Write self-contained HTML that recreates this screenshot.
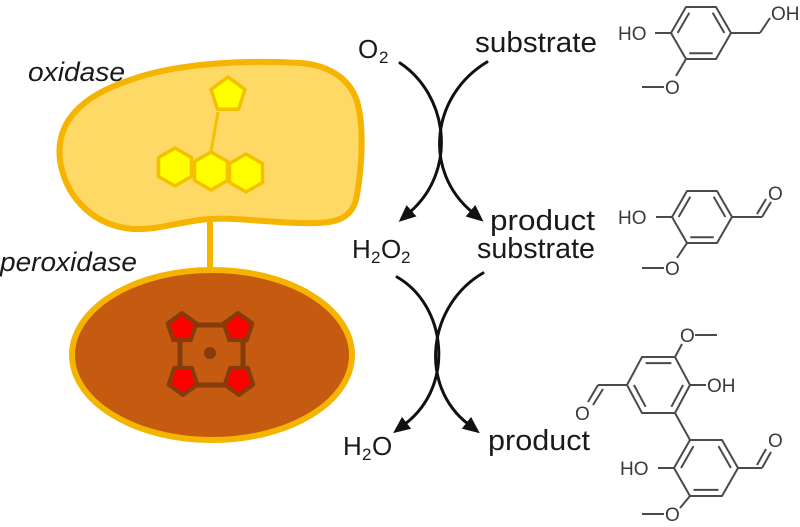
<!DOCTYPE html>
<html>
<head>
<meta charset="utf-8">
<style>
  html, body { margin: 0; padding: 0; background: #ffffff; }
  body { width: 800px; height: 527px; overflow: hidden; }
  svg { display: block; }
  .lbl { font-family: "Liberation Sans", sans-serif; fill: #1a1a1a; }
  .it { font-family: "Liberation Sans", sans-serif; font-style: italic; fill: #1a1a1a; }
  .chem { font-family: "Liberation Sans", sans-serif; fill: #3a3a3a; font-size: 19px; }
</style>
</head>
<body>
<svg width="800" height="527" viewBox="0 0 800 527" xmlns="http://www.w3.org/2000/svg">
  <defs>
    <marker id="ah" markerUnits="userSpaceOnUse" viewBox="0 -8 18 16" markerWidth="18" markerHeight="16" refX="2" refY="0" orient="auto">
      <path d="M0,-7.5 L17,0 L0,7.5 z" fill="#111"/>
    </marker>
  </defs>

  <!-- ===== Oxidase ===== -->
  <text class="it" x="28" y="81" font-size="27" textLength="97" lengthAdjust="spacingAndGlyphs">oxidase</text>
  <path d="M60,160 C55,120 85,95 130,80 C180,62 250,60 300,63 C330,65 352,80 358,105 C364,130 362,170 356,200 C350,222 330,224 300,223 C260,222 230,216 200,220 C170,224 150,232 125,228 C90,222 65,195 60,160 Z"
        fill="#FFD966" stroke="#F4B400" stroke-width="6"/>
  <!-- stem -->
  <line x1="218" y1="112" x2="211" y2="152" stroke="#F5C000" stroke-width="3"/>
  <!-- pentagon -->
  <polygon points="228,77 245,89.4 238.5,109.3 217.5,109.3 211,89.4" fill="#FFFF00" stroke="#F5C000" stroke-width="3.5" stroke-linejoin="round"/>
  <!-- hexagons (pointy top) -->
  <polygon points="175,148 191.5,157.5 191.5,176.5 175,186 158.5,176.5 158.5,157.5" fill="#FFFF00" stroke="#F5C000" stroke-width="3.5" stroke-linejoin="round"/>
  <polygon points="211,152 227.5,161.5 227.5,180.5 211,190 194.5,180.5 194.5,161.5" fill="#FFFF00" stroke="#F5C000" stroke-width="3.5" stroke-linejoin="round"/>
  <polygon points="246,154 262.5,163.5 262.5,182.5 246,192 229.5,182.5 229.5,163.5" fill="#FFFF00" stroke="#F5C000" stroke-width="3.5" stroke-linejoin="round"/>

  <!-- connector -->
  <rect x="207" y="222" width="6" height="48" fill="#F4B400"/>

  <!-- ===== Peroxidase ===== -->
  <text class="it" x="0" y="271" font-size="27" textLength="137" lengthAdjust="spacingAndGlyphs">peroxidase</text>
  <ellipse cx="212" cy="355" rx="140" ry="85" fill="#C55A11" stroke="#F4B400" stroke-width="6"/>
  <!-- porphyrin -->
  <rect x="180" y="325" width="63" height="60" fill="none" stroke="#843C0C" stroke-width="5"/>
  <polygon points="182,313 196.3,323.4 190.8,340.1 173.2,340.1 167.7,323.4" fill="#FF0000" stroke="#843C0C" stroke-width="4" stroke-linejoin="round"/>
  <polygon points="238,313 252.3,323.4 246.8,340.1 229.2,340.1 223.7,323.4" fill="#FF0000" stroke="#843C0C" stroke-width="4" stroke-linejoin="round"/>
  <polygon points="183,395 168.7,384.6 174.2,367.9 191.8,367.9 197.3,384.6" fill="#FF0000" stroke="#843C0C" stroke-width="4" stroke-linejoin="round"/>
  <polygon points="239,395 224.7,384.6 230.2,367.9 247.8,367.9 253.3,384.6" fill="#FF0000" stroke="#843C0C" stroke-width="4" stroke-linejoin="round"/>
  <circle cx="210" cy="353" r="6" fill="#843C0C"/>

  <!-- ===== Arrows ===== -->
  <g fill="none" stroke="#111" stroke-width="3" stroke-linecap="round">
    <path d="M400,63 C448,95 458,170 410,212" marker-end="url(#ah)"/>
    <path d="M487,62 C432,95 422,170 472,212" marker-end="url(#ah)"/>
    <path d="M397,277 C446,305 456,385 405,424" marker-end="url(#ah)"/>
    <path d="M483,273 C428,305 418,385 468,424" marker-end="url(#ah)"/>
  </g>

  <!-- ===== Labels ===== -->
  <text class="lbl" x="358" y="58" font-size="26">O</text>
  <text class="lbl" x="379" y="63" font-size="17">2</text>
  <text class="lbl" x="475" y="52" font-size="29" textLength="122" lengthAdjust="spacingAndGlyphs">substrate</text>

  <text class="lbl" x="490" y="230" font-size="29" textLength="105" lengthAdjust="spacingAndGlyphs">product</text>
  <text class="lbl" x="352" y="258" font-size="26">H</text>
  <text class="lbl" x="371" y="263" font-size="17">2</text>
  <text class="lbl" x="381" y="258" font-size="26">O</text>
  <text class="lbl" x="401" y="263" font-size="17">2</text>
  <text class="lbl" x="477" y="258" font-size="29" textLength="118" lengthAdjust="spacingAndGlyphs">substrate</text>

  <text class="lbl" x="343" y="455" font-size="26">H</text>
  <text class="lbl" x="362" y="460" font-size="17">2</text>
  <text class="lbl" x="372" y="455" font-size="26">O</text>
  <text class="lbl" x="488" y="450" font-size="29" textLength="102" lengthAdjust="spacingAndGlyphs">product</text>

  <!-- ===== Molecule 1: vanillyl alcohol ===== -->
  <g stroke="#4a4a4a" stroke-width="2" fill="none" stroke-linejoin="round">
    <polygon points="671,33 686,7 716,7 731,33 716,59 686,59"/>
    <g transform="translate(701,33) scale(0.78) translate(-701,-33)">
      <line x1="671" y1="33" x2="686" y2="7" vector-effect="non-scaling-stroke"/>
      <line x1="716" y1="7" x2="731" y2="33" vector-effect="non-scaling-stroke"/>
      <line x1="716" y1="59" x2="686" y2="59" vector-effect="non-scaling-stroke"/>
    </g>
    <line x1="671" y1="33" x2="655" y2="33"/>
    <line x1="731" y1="33" x2="760" y2="33"/>
    <line x1="760" y1="33" x2="770" y2="18"/>
    <line x1="686" y1="59" x2="676" y2="76"/>
    <line x1="664" y1="87" x2="642" y2="87"/>
  </g>
  <text class="chem" x="618" y="40">HO</text>
  <text class="chem" x="771" y="20">OH</text>
  <text class="chem" x="665" y="94">O</text>

  <!-- ===== Molecule 2: vanillin ===== -->
  <g stroke="#4a4a4a" stroke-width="2" fill="none" stroke-linejoin="round">
    <polygon points="672,217 687,191 717,191 732,217 717,243 687,243"/>
    <g transform="translate(702,217) scale(0.78) translate(-702,-217)">
      <line x1="672" y1="217" x2="687" y2="191" vector-effect="non-scaling-stroke"/>
      <line x1="717" y1="191" x2="732" y2="217" vector-effect="non-scaling-stroke"/>
      <line x1="717" y1="243" x2="687" y2="243" vector-effect="non-scaling-stroke"/>
    </g>
    <line x1="672" y1="217" x2="656" y2="217"/>
    <line x1="732" y1="217" x2="762" y2="217"/>
    <line x1="762" y1="217" x2="771" y2="202"/>
    <line x1="757" y1="214" x2="766" y2="199"/>
    <line x1="687" y1="243" x2="677" y2="258"/>
    <line x1="664" y1="268" x2="642" y2="268"/>
  </g>
  <text class="chem" x="618" y="224">HO</text>
  <text class="chem" x="768" y="200">O</text>
  <text class="chem" x="665" y="275">O</text>

  <!-- ===== Molecule 3: divanillin ===== -->
  <g stroke="#4a4a4a" stroke-width="2" fill="none" stroke-linejoin="round">
    <polygon points="627,385 642,357 675,357 690,385 675,413 642,413"/>
    <g transform="translate(658.5,385) scale(0.78) translate(-658.5,-385)">
      <line x1="642" y1="357" x2="675" y2="357" vector-effect="non-scaling-stroke"/>
      <line x1="690" y1="385" x2="675" y2="413" vector-effect="non-scaling-stroke"/>
      <line x1="642" y1="413" x2="627" y2="385" vector-effect="non-scaling-stroke"/>
    </g>
    <line x1="675" y1="357" x2="682" y2="344"/>
    <line x1="695" y1="335" x2="717" y2="335"/>
    <line x1="690" y1="385" x2="706" y2="385"/>
    <line x1="627" y1="385" x2="598" y2="385"/>
    <line x1="598" y1="385" x2="588" y2="402"/>
    <line x1="603" y1="389" x2="593" y2="405"/>
    <line x1="675" y1="413" x2="690" y2="440"/>
    <polygon points="674,468 690,440 722,440 738,468 722,496 690,496"/>
    <g transform="translate(706,468) scale(0.78) translate(-706,-468)">
      <line x1="674" y1="468" x2="690" y2="440" vector-effect="non-scaling-stroke"/>
      <line x1="722" y1="440" x2="738" y2="468" vector-effect="non-scaling-stroke"/>
      <line x1="722" y1="496" x2="690" y2="496" vector-effect="non-scaling-stroke"/>
    </g>
    <line x1="674" y1="468" x2="658" y2="468"/>
    <line x1="738" y1="468" x2="762" y2="468"/>
    <line x1="762" y1="468" x2="771" y2="452"/>
    <line x1="757" y1="465" x2="766" y2="449"/>
    <line x1="690" y1="496" x2="680" y2="508"/>
    <line x1="664" y1="514" x2="642" y2="514"/>
  </g>
  <text class="chem" x="680" y="342">O</text>
  <text class="chem" x="707" y="392">OH</text>
  <text class="chem" x="575" y="420">O</text>
  <text class="chem" x="620" y="475">HO</text>
  <text class="chem" x="768" y="447">O</text>
  <text class="chem" x="665" y="521">O</text>
</svg>
</body>
</html>
